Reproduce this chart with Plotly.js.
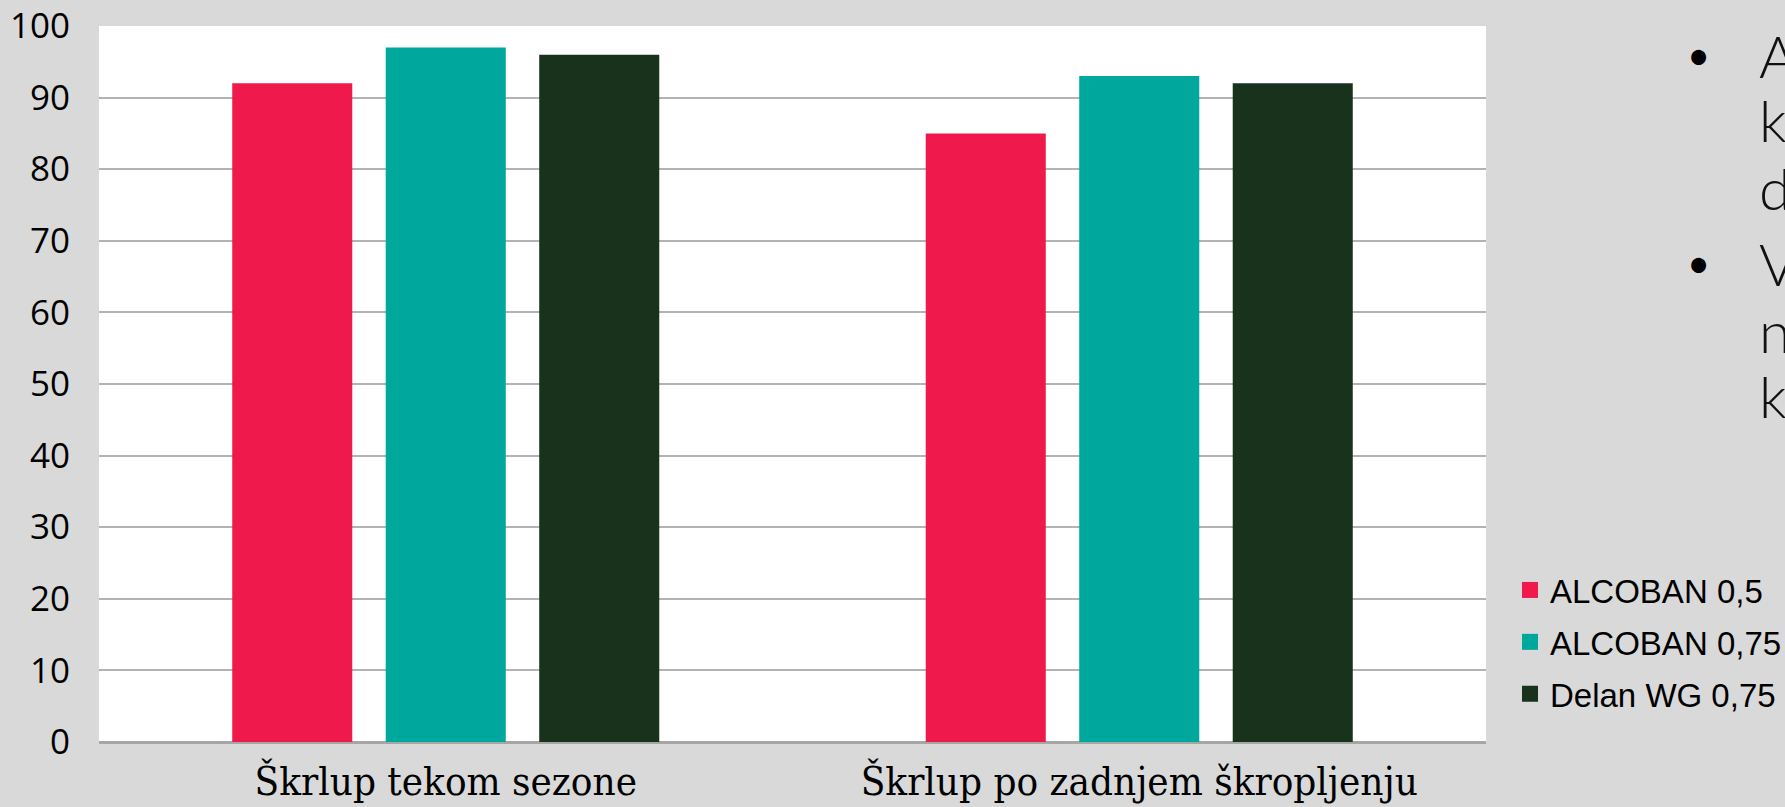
<!DOCTYPE html>
<html>
<head>
<meta charset="utf-8">
<script src="https://cdn.plot.ly/plotly-3.0.1.min.js"></script>
<style>
html,body{margin:0;padding:0;background:#d9d9d9;}
#chart{width:1785px;height:807px;}
</style>
</head>
<body>
<div id="chart"></div>
<script>
const categories = ["Škrlup tekom sezone", "Škrlup po zadnjem škropljenju"];
const seriesNames = ["ALCOBAN 0,5", "ALCOBAN 0,75", "Delan WG 0,75"];
const alcoban05 = [92, 85];
const alcoban075 = [97, 93];
const delan075 = [96, 92];
const yTicks = [0, 10, 20, 30, 40, 50, 60, 70, 80, 90, 100];
const sideLetters = ["A", "k", "d", "V", "n", "k"];

const colors = ["#ef1a4b", "#00a79d", "#18321b"];
const values = [alcoban05, alcoban075, delan075];

const traces = seriesNames.map((name, i) => ({
  type: "bar",
  name: name,
  x: categories,
  y: values[i],
  marker: {color: colors[i], line: {width: 0}},
  showlegend: false,
  hoverinfo: "skip"
}));
seriesNames.forEach((name, i) => {
  traces.push({
    type: "scatter", mode: "markers", name: name,
    x: [null], y: [null],
    marker: {symbol: "square", size: 16, color: colors[i], line: {width: 0}},
    legendgroup: "g" + i, showlegend: true, hoverinfo: "skip"
  });
});

const L = 99, R = 1486, T = 26, B = 742;
const pw = R - L, ph = B - T;
const px = p => (p - L) / pw;
const py = p => (B - p) / ph;

const annotations = [];
[[1698, 55], [1698, 263]].forEach(([x, y]) => {
  annotations.push({xref: "paper", yref: "paper", x: px(x), y: py(y), text: "•",
    showarrow: false, xanchor: "center", yanchor: "middle",
    font: {family: "Lato, 'Open Sans', sans-serif", size: 40, color: "#000"}});
});
const letterY = [55, 120, 187, 263, 330, 395];
sideLetters.forEach((t, i) => {
  annotations.push({xref: "paper", yref: "paper", x: px(1757), y: py(letterY[i]), text: t,
    showarrow: false, xanchor: "left", yanchor: "middle",
    font: {family: "Lato, 'Open Sans', sans-serif", size: 58, color: "#111", weight: 300}});
});

const layout = {
  width: 1785, height: 807,
  paper_bgcolor: "#d9d9d9",
  plot_bgcolor: "#ffffff",
  margin: {l: L, r: 1785 - R, t: T, b: 807 - B, pad: 0, autoexpand: false},
  barmode: "group",
  bargap: 0.336,
  bargroupgap: 0.218,
  showlegend: true,
  legend: {
    x: px(1510), y: py(562), xanchor: "left", yanchor: "top",
    bgcolor: "rgba(0,0,0,0)",
    font: {family: "'Liberation Sans', Arial, sans-serif", size: 33, color: "#000"},
    itemwidth: 30, tracegroupgap: 6, traceorder: "grouped"
  },
  xaxis: {
    tickvals: categories, ticktext: categories,
    tickfont: {family: "'DejaVu Serif Condensed', 'Liberation Serif', serif", size: 40, color: "#000"},
    ticks: "", showgrid: false, showline: false, zeroline: false,
    ticklabelstandoff: 12,
    fixedrange: true
  },
  yaxis: {
    range: [0, 100], tickvals: yTicks, ticktext: yTicks.map(String),
    tickfont: {family: "'Open Sans', 'Noto Sans', sans-serif", size: 35, color: "#000"},
    showgrid: true, gridcolor: "#b3b3b3", gridwidth: 2,
    zeroline: true, zerolinecolor: "#a6a6a6", zerolinewidth: 3,
    showline: false, ticks: "", ticklabelstandoff: 28,
    fixedrange: true
  },
  annotations: annotations
};

Plotly.newPlot("chart", traces, layout, {displayModeBar: false, staticPlot: true});
</script>
</body>
</html>
